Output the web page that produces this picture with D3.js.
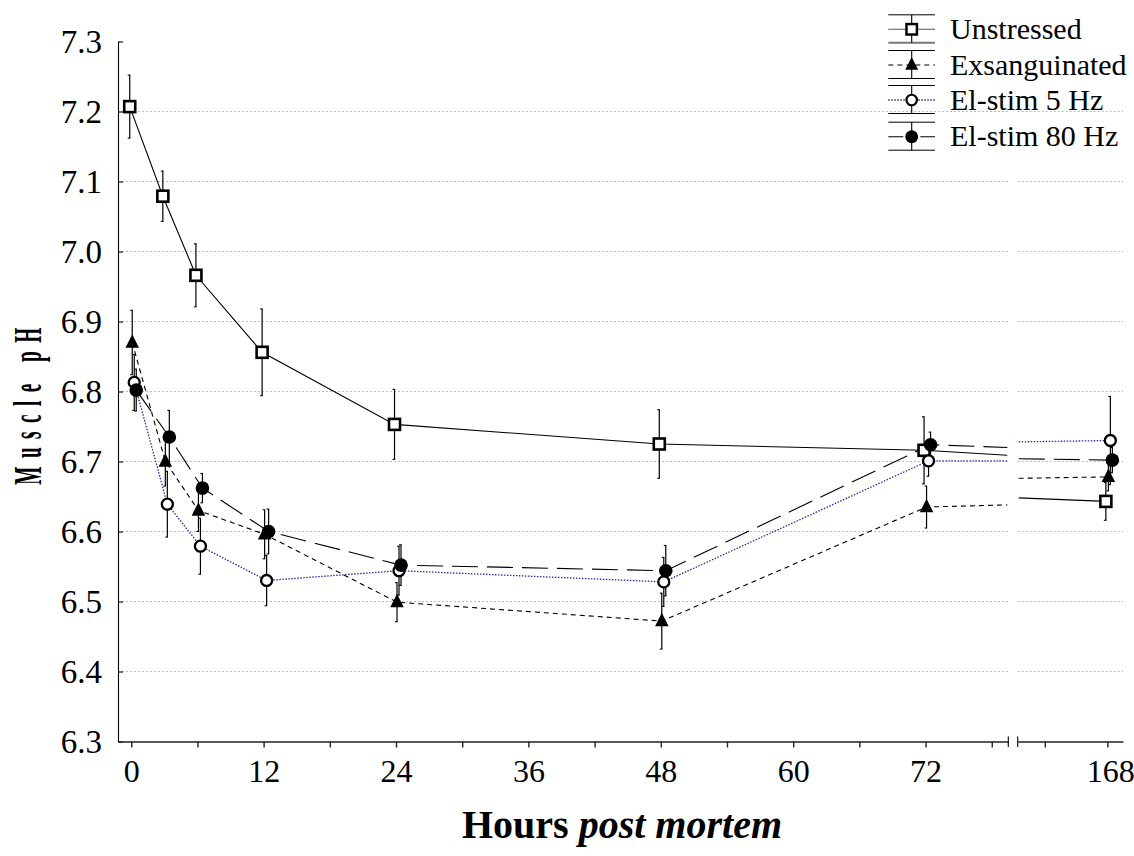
<!DOCTYPE html>
<html>
<head>
<meta charset="utf-8">
<script src="https://cdn.jsdelivr.net/npm/d3@7"></script>
<style>
  html, body { margin: 0; padding: 0; background: #fff; }
  svg { display: block; }
  text { font-family: "Liberation Serif", "Times New Roman", serif; fill: #000; }
</style>
</head>
<body>
<svg id="chart" width="1134" height="856"></svg>
<script>
// ---------------- data ----------------
const hours = [0, 3, 6, 12, 24, 48, 72, 168];
const seriesNames = ["Unstressed", "Exsanguinated", "El-stim 5 Hz", "El-stim 80 Hz"];

const unstressed    = [7.207, 7.079, 6.966, 6.856, 6.753, 6.725, 6.716, 6.643];
const unstressedErr = [0.045, 0.036, 0.045, 0.062, 0.050, 0.049, 0.048, 0.027];

const exsanguinated    = [6.870, 6.700, 6.630, 6.596, 6.499, 6.472, 6.635, 6.678];
const exsanguinatedErr = [0.046, 0.035, 0.030, 0.035, 0.028, 0.040, 0.030, 0.020];

const elstim5    = [6.813, 6.639, 6.579, 6.530, 6.544, 6.528, 6.701, 6.730];
const elstim5Err = [0.040, 0.047, 0.040, 0.036, 0.035, 0.035, 0.022, 0.063];

const elstim80    = [6.802, 6.735, 6.662, 6.600, 6.552, 6.544, 6.724, 6.702];
const elstim80Err = [0.030, 0.038, 0.021, 0.032, 0.029, 0.036, 0.018, 0.018];

// line values where the curves meet the axis break (left side / right side)
const breakLeftValues  = [6.709, 6.638, 6.701, 6.720];
const breakRightValues = [6.648, 6.676, 6.728, 6.704];

const yTicks = [6.3, 6.4, 6.5, 6.6, 6.7, 6.8, 6.9, 7.0, 7.1, 7.2, 7.3];
const yGrid  = [6.4, 6.5, 6.6, 6.7, 6.8, 6.9, 7.0, 7.1, 7.2];
const xTicksMain  = [0, 6, 12, 18, 24, 30, 36, 42, 48, 54, 60, 66, 72, 78];
const xLabelsMain = [0, 12, 24, 36, 48, 60, 72];
const xTicksTail  = [162, 168];
const xLabelsTail = [168];

// ---------------- layout ----------------
const FONT = '"Liberation Serif", "Times New Roman", serif';
const svg = d3.select("#chart");
const plotLeft = 118, plotBottom = 741.5, plotTop = 41.5;
const breakL = 1008.3, breakR = 1017.7, rightEnd = 1123;

const x1 = d3.scaleLinear().domain([-1.2, 79.5]).range([plotLeft, breakL]);
const x2 = d3.scaleLinear().domain([159.4, 169.5]).range([breakR, rightEnd]);
const y  = d3.scaleLinear().domain([6.3, 7.3]).range([plotBottom, plotTop]);
const xPos = h => (h > 100 ? x2(h) : x1(h));

const styles = [
  { color: "#000", dash: null,       width: 1.1, marker: "square",   dodge: -1.5, legendDash: null },
  { color: "#000", dash: "5,4",      width: 1.1, marker: "triangle", dodge: 1,    legendDash: "5,4" },
  { color: "#2a2aa6", dash: "1.5,1.5", width: 1.3, marker: "open",   dodge: 3,    legendDash: "1.5,1.5" },
  { color: "#000", dash: "26,9",     width: 1.1, marker: "filled",   dodge: 5,    legendDash: "15,17" }
];

const series = [
  { name: seriesNames[0], vals: unstressed,    err: unstressedErr },
  { name: seriesNames[1], vals: exsanguinated, err: exsanguinatedErr },
  { name: seriesNames[2], vals: elstim5,       err: elstim5Err },
  { name: seriesNames[3], vals: elstim80,      err: elstim80Err }
].map((s, i) => Object.assign(s, styles[i], {
  breakL: breakLeftValues[i], breakR: breakRightValues[i]
}));

// ---------------- grid ----------------
const grid = svg.append("g");
yGrid.forEach(v => {
  grid.append("line").attr("x1", plotLeft + 4).attr("x2", breakL)
    .attr("y1", y(v)).attr("y2", y(v))
    .attr("stroke", "#bdbdbd").attr("stroke-width", 1).attr("stroke-dasharray", "2,2");
  grid.append("line").attr("x1", breakR).attr("x2", rightEnd)
    .attr("y1", y(v)).attr("y2", y(v))
    .attr("stroke", "#bdbdbd").attr("stroke-width", 1).attr("stroke-dasharray", "2,2");
});

// ---------------- axes ----------------
const yAxis = d3.axisLeft(y).tickValues(yTicks).tickFormat(d3.format(".1f"))
  .tickSizeInner(-5).tickSizeOuter(0).tickPadding(16);
const gy = svg.append("g").attr("transform", `translate(${plotLeft},0)`).call(yAxis);
gy.attr("font-family", FONT);
gy.selectAll("text").style("font-family", FONT).style("font-size", "33px").attr("dy", "0.34em");
gy.selectAll("line, path").attr("stroke", "#000").attr("stroke-width", 1.1);

const xAxis1 = d3.axisBottom(x1).tickValues(xTicksMain)
  .tickFormat(d => xLabelsMain.includes(d) ? d : "")
  .tickSizeInner(6).tickSizeOuter(0).tickPadding(12);
const gx1 = svg.append("g").attr("transform", `translate(0,${plotBottom})`).call(xAxis1);
const xAxis2 = d3.axisBottom(x2).tickValues(xTicksTail)
  .tickFormat(d => xLabelsTail.includes(d) ? d : "")
  .tickSizeInner(6).tickSizeOuter(0).tickPadding(12);
const gx2 = svg.append("g").attr("transform", `translate(0,${plotBottom})`).call(xAxis2);
[gx1, gx2].forEach(g => {
  g.attr("font-family", FONT);
  g.selectAll("text").style("font-family", FONT).style("font-size", "32px").attr("dy", "0.71em");
  g.selectAll("line, path").attr("stroke", "#222").attr("stroke-width", 1.4);
});
gx2.selectAll("text").attr("dx", 3);
// break marks
[breakL, breakR].forEach(bx => {
  svg.append("line").attr("x1", bx).attr("x2", bx)
    .attr("y1", plotBottom - 5).attr("y2", plotBottom + 5.5)
    .attr("stroke", "#000").attr("stroke-width", 1.1);
});

// ---------------- lines ----------------
const lineGen = d3.line().x(d => d[0]).y(d => d[1]).curve(d3.curveLinear);
const linesG = svg.append("g").attr("fill", "none");
series.forEach(s => {
  const seg1 = hours.map((h, i) => [h, s.vals[i]]).filter(d => d[0] <= 72)
    .map(d => [x1(d[0]) + s.dodge, y(d[1])]);
  seg1.push([breakL - 1, y(s.breakL)]);
  const seg2 = [[breakR + 1, y(s.breakR)]].concat(
    hours.map((h, i) => [h, s.vals[i]]).filter(d => d[0] > 100)
      .map(d => [x2(d[0]) + s.dodge, y(d[1])]));
  [seg1, seg2].forEach(pts => {
    linesG.append("path").attr("d", lineGen(pts))
      .attr("stroke", s.color).attr("stroke-width", s.width)
      .attr("stroke-dasharray", s.dash);
  });
});

// ---------------- markers ----------------
function drawMarker(g, type, cx, cy, scale) {
  const k = scale || 1;
  if (type === "square") {
    const a = 11 * k;
    g.append("rect").attr("x", cx - a / 2).attr("y", cy - a / 2)
      .attr("width", a).attr("height", a)
      .attr("fill", "#fff").attr("stroke", "#000").attr("stroke-width", 2.6 * k);
  } else if (type === "triangle") {
    const w = 13.5 * k, h = 13.5 * k;
    g.append("path")
      .attr("d", `M${cx},${cy - h * 0.62}L${cx + w / 2},${cy + h * 0.38}L${cx - w / 2},${cy + h * 0.38}Z`)
      .attr("fill", "#000");
  } else if (type === "open") {
    g.append("circle").attr("cx", cx).attr("cy", cy).attr("r", 5.5 * k)
      .attr("fill", "#fff").attr("stroke", "#000").attr("stroke-width", 2.3 * k);
  } else {
    g.append("circle").attr("cx", cx).attr("cy", cy).attr("r", 6.8 * k).attr("fill", "#000");
  }
}

const markG = svg.append("g");
series.forEach(s => {
  hours.forEach((h, i) => {
    const cx = xPos(h) + s.dodge;
    const v = s.vals[i], e = s.err[i];
    markG.append("line").attr("x1", cx).attr("x2", cx)
      .attr("y1", y(v + e)).attr("y2", y(v - e))
      .attr("stroke", "#000").attr("stroke-width", 1.2);
    [v + e, v - e].forEach(c => {
      markG.append("line").attr("x1", cx - 2).attr("x2", cx + 0.6)
        .attr("y1", y(c)).attr("y2", y(c))
        .attr("stroke", "#000").attr("stroke-width", 1.1);
    });
  });
});
series.forEach(s => {
  hours.forEach((h, i) => {
    drawMarker(markG, s.marker, xPos(h) + s.dodge, y(s.vals[i]));
  });
});

// ---------------- legend ----------------
const legend = svg.append("g");
const lgX0 = 888.3, lgX1 = 935, lgXc = 911.7;
const rowCenters = [29.3, 65, 100, 136.7];
series.forEach((s, i) => {
  const cy = rowCenters[i];
  const rTop = cy - 14.5, rBot = cy + 13.5;
  legend.append("line").attr("x1", lgX0).attr("x2", lgX1).attr("y1", rTop).attr("y2", rTop)
    .attr("stroke", "#000").attr("stroke-width", 1);
  legend.append("line").attr("x1", lgX0).attr("x2", lgX1).attr("y1", rBot).attr("y2", rBot)
    .attr("stroke", i === 0 ? "#777" : "#000").attr("stroke-width", i === 0 ? 2 : 1);
  legend.append("line").attr("x1", lgXc).attr("x2", lgXc).attr("y1", rTop).attr("y2", rBot)
    .attr("stroke", "#000").attr("stroke-width", 1.1);
  legend.append("line").attr("x1", lgX0).attr("x2", lgX1).attr("y1", cy).attr("y2", cy)
    .attr("stroke", i === 0 ? "#555" : s.color).attr("stroke-width", s.width)
    .attr("stroke-dasharray", s.legendDash);
  drawMarker(legend, s.marker, lgXc, cy, 0.95);
  legend.append("text").attr("x", 950).attr("y", cy + 9.5)
    .style("font-size", "30px").text(s.name);
});

// ---------------- titles ----------------
const xt = svg.append("text").attr("x", 622).attr("y", 838)
  .attr("text-anchor", "middle").style("font-size", "40px").style("font-weight", "bold");
xt.append("tspan").text("Hours ");
xt.append("tspan").style("font-style", "italic").text("post mortem");

svg.append("text")
  .attr("transform", "translate(41,402) rotate(-90) scale(0.47,1)")
  .attr("text-anchor", "middle")
  .style("font-size", "41px").style("font-weight", "bold").style("letter-spacing", "18px")
  .text("Muscle pH");
</script>
</body>
</html>
